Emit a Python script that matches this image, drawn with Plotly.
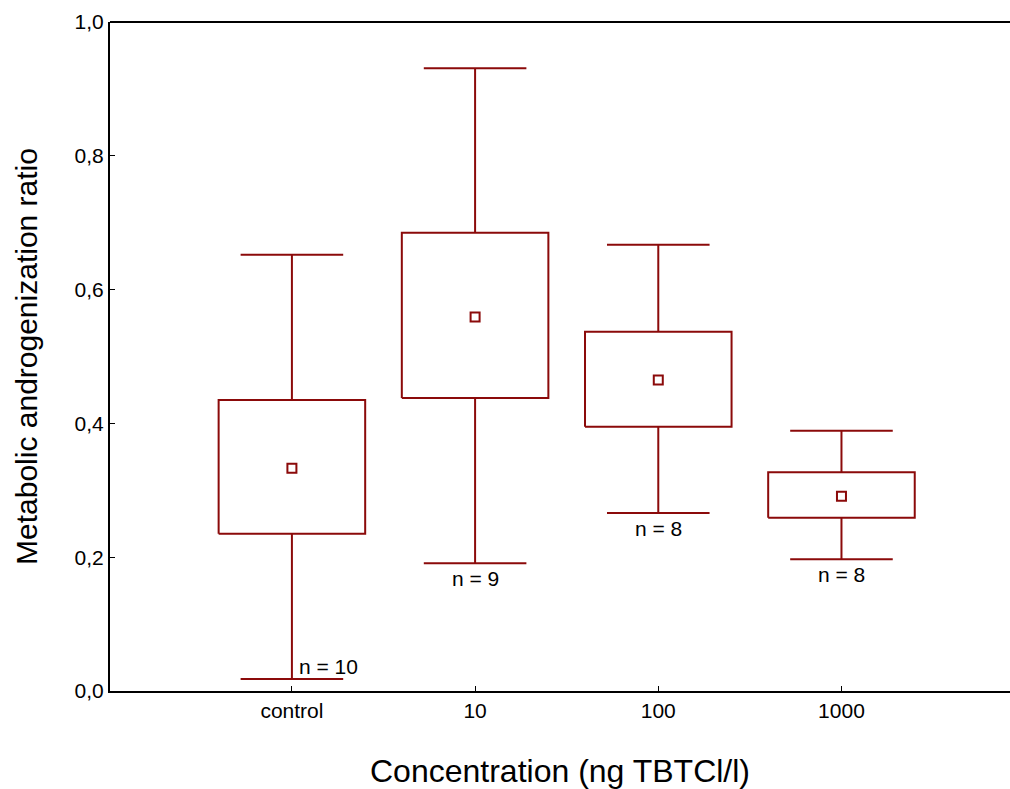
import plotly.graph_objects as go

categories = ["control", "10", "100", "1000"]
whisker_low = [0.018, 0.191, 0.266, 0.197]
box_low = [0.235, 0.438, 0.395, 0.259]
means = [0.333, 0.559, 0.465, 0.291]
box_high = [0.435, 0.685, 0.537, 0.327]
whisker_high = [0.652, 0.931, 0.667, 0.389]
n_labels = ["n = 10", "n = 9", "n = 8", "n = 8"]

RED = "#8B0A0A"
BOX_HALF = 0.4
CAP_HALF = 0.28
FONT = "Liberation Sans, Arial"
xpos = list(range(len(categories)))

fig = go.Figure()
for i in xpos:
    x0, x1 = i - BOX_HALF, i + BOX_HALF
    c0, c1 = i - CAP_HALF, i + CAP_HALF
    # box
    fig.add_trace(go.Scatter(
        x=[x0, x1, x1, x0, x0],
        y=[box_low[i], box_low[i], box_high[i], box_high[i], box_low[i]],
        mode="lines", line=dict(color=RED, width=2), showlegend=False, hoverinfo="skip"))
    # whiskers and caps
    fig.add_trace(go.Scatter(
        x=[i, i, None, c0, c1, None, i, i, None, c0, c1],
        y=[box_high[i], whisker_high[i], None, whisker_high[i], whisker_high[i], None,
           box_low[i], whisker_low[i], None, whisker_low[i], whisker_low[i]],
        mode="lines", line=dict(color=RED, width=2), showlegend=False, hoverinfo="skip"))

fig.add_trace(go.Scatter(
    x=xpos, y=means, mode="markers",
    marker=dict(symbol="square-open", size=9, color=RED, line=dict(width=2, color=RED)),
    showlegend=False,
))

for i, lab in enumerate(n_labels):
    if i == 0:
        fig.add_annotation(x=xpos[i], y=whisker_low[i], text=lab, showarrow=False,
                           xanchor="left", yanchor="bottom", xshift=5, yshift=-1,
                           font=dict(size=21, color="black", family=FONT))
    else:
        fig.add_annotation(x=xpos[i], y=whisker_low[i], text=lab, showarrow=False,
                           xanchor="center", yanchor="top", yshift=-2,
                           font=dict(size=21, color="black", family=FONT))

fig.add_shape(type="line", xref="paper", yref="paper", x0=0, x1=1, y0=1, y1=1,
              line=dict(color="black", width=2))

fig.update_layout(
    width=1010, height=789,
    margin=dict(l=110, r=0, t=22, b=98),
    plot_bgcolor="white", paper_bgcolor="white",
    separators=",.",
    font=dict(family=FONT, color="black"),
    xaxis=dict(
        range=[-0.993, 3.92], tickvals=xpos, ticktext=categories,
        showline=True, linecolor="black", linewidth=2,
        ticks="inside", ticklen=5, tickcolor="black", tickwidth=1,
        showgrid=False, zeroline=False,
        tickfont=dict(size=21),
        title=dict(text="Concentration (ng TBTCl/l)", font=dict(size=32), standoff=40),
    ),
    yaxis=dict(
        range=[0, 1], tickvals=[0, 0.2, 0.4, 0.6, 0.8, 1.0], tickformat=".1f",
        showline=True, linecolor="black", linewidth=2,
        ticks="inside", ticklen=5, tickcolor="black", tickwidth=1,
        showgrid=False, zeroline=False,
        tickfont=dict(size=21),
        title=dict(text="Metabolic androgenization ratio", font=dict(size=30), standoff=28),
    ),
)

fig.write_html("out.html", config={"displayModeBar": False},
               post_script="document.body.style.margin='0';document.body.style.overflow='hidden';")
